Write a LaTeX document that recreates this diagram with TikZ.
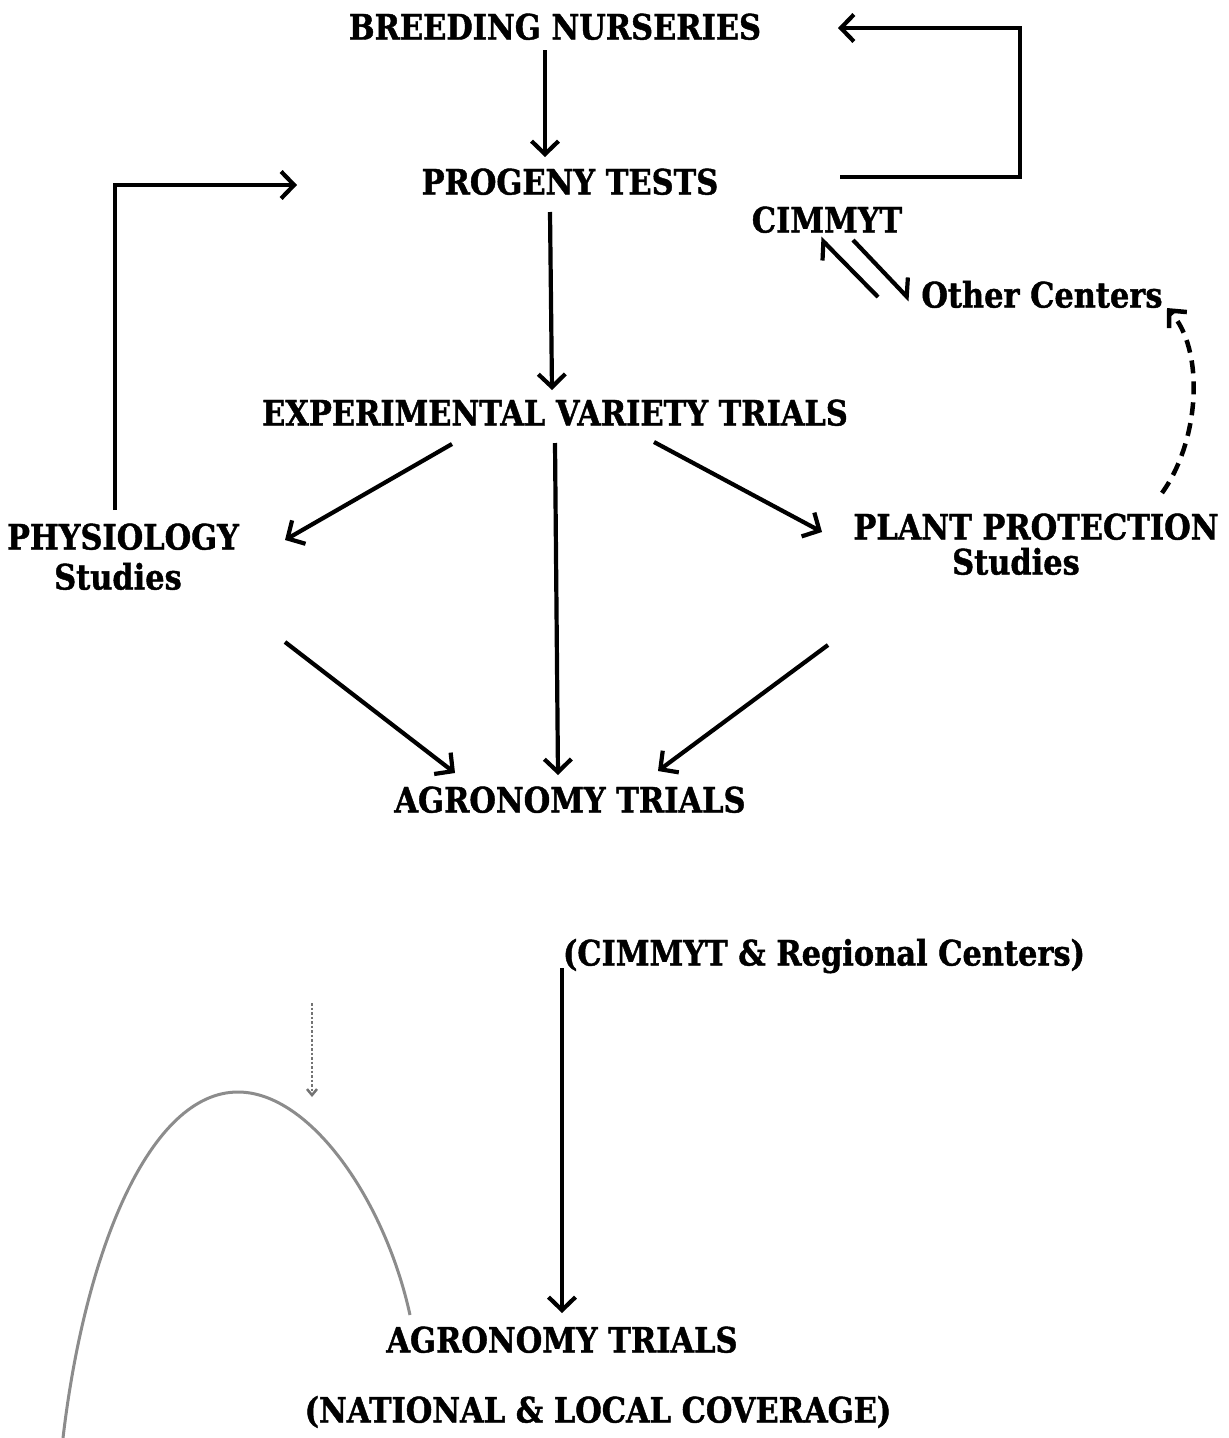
\documentclass[tikz,border=0pt]{standalone}
\usepackage{fontspec}
\setmainfont{DejaVu Serif}[FakeStretch=0.87, BoldFeatures={FakeBold=1.2}]
\usetikzlibrary{arrows.meta}
\tikzset{
  lbl/.style={font=\bfseries\fontsize{35}{40}\selectfont, inner sep=0pt, text height=25pt, text depth=0pt},
  conn/.style={line width=4.2pt, -{Straight Barb[length=13pt,width=27pt]}},
  harp/.style={line width=4.2pt, -{Straight Barb[left,length=13pt,width=28pt]}},
  dconn/.style={line width=4.5pt, dash pattern=on 13pt off 8pt, -{Straight Barb[length=13pt,width=24pt]}},
  faint/.style={draw=black!45, line width=3pt}
}
\begin{document}
\begin{tikzpicture}[x=1pt,y=-1pt]
\useasboundingbox[fill=white] (0,0) rectangle (1229,1438);

\node[lbl] (bn)   at (555,27)   {BREEDING NURSERIES};
\node[lbl] (pt)   at (570,182)  {PROGENY TESTS};
\node[lbl] (cim)  at (827,220)  {CIMMYT};
\node[lbl] (oc)   at (1042,295) {Other Centers};
\node[lbl] (evt)  at (555,413)  {EXPERIMENTAL VARIETY TRIALS};
\node[lbl] (phys) at (123,537)  {PHYSIOLOGY};
\node[lbl] (physs) at (118,577) {Studies};
\node[lbl] (pp)   at (1036,527) {PLANT PROTECTION};
\node[lbl] (pps)  at (1016,562) {Studies};
\node[lbl] (agr)  at (570,800)  {AGRONOMY TRIALS};
\node[lbl] (crc)  at (824,953)  {(CIMMYT \& Regional Centers)};
\node[lbl] (agr2) at (562,1340) {AGRONOMY TRIALS};
\node[lbl] (nat)  at (598,1410) {(NATIONAL \& LOCAL COVERAGE)};

% main flow
\draw[conn] ([xshift=-10pt,yshift=-23pt]bn.center) -- ([xshift=-25pt,yshift=25pt]pt.center);
\draw[conn] ([xshift=270pt,yshift=5pt]pt.center) -- ++(180,0) |- ([xshift=283pt,yshift=-1pt]bn.center);
\draw[conn] ([xshift=-8pt,yshift=27pt]phys.center) |- ([xshift=-273pt,yshift=-3pt]pt.center);
\draw[conn] ([xshift=-20pt,yshift=-30pt]pt.center) -- ([xshift=-3pt,yshift=23pt]evt.center);
\draw[conn] ([xshift=-103pt,yshift=-31pt]evt.center) -- ([xshift=162pt,yshift=-3pt]phys.center);
\draw[conn] ([xshift=0pt,yshift=-30pt]evt.center) -- ([xshift=-12pt,yshift=25pt]agr.center);
\draw[conn] ([xshift=99pt,yshift=-29pt]evt.center) -- ([xshift=-214pt,yshift=-5pt]pp.center);
\draw[conn] ([xshift=167pt,yshift=-65pt]physs.center) -- ([xshift=-115pt,yshift=27pt]agr.center);
\draw[conn] ([xshift=-188pt,yshift=-83pt]pps.center) -- ([xshift=88pt,yshift=29pt]agr.center);

% CIMMYT <-> Other Centers
\draw[harp] ([xshift=-164pt,yshift=-2pt]oc.center) -- ([xshift=-7pt,yshift=-18pt]cim.center);
\draw[harp] ([xshift=26pt,yshift=-20pt]cim.center) -- ([xshift=-132pt,yshift=-5pt]oc.center);

% dashed return
\draw[dconn] ([xshift=126pt,yshift=34pt]pp.center) .. controls (1200,440) and (1205,350) .. ([xshift=125pt,yshift=-13pt]oc.center);

% lower part
\draw[conn] ([xshift=-262pt,yshift=-15pt]crc.center) -- ([xshift=0pt,yshift=27pt]agr2.center);

% faint curve and mark
\draw[faint] (63,1438) .. controls (85,1250) and (150,1092) .. (238,1092)
             .. controls (310,1092) and (385,1200) .. (410,1315);
\draw[draw=black!55, line width=2.5pt, dotted, -{Straight Barb[length=6pt,width=10pt]}] (312,1003) -- (312,1097);
\end{tikzpicture}
\end{document}
